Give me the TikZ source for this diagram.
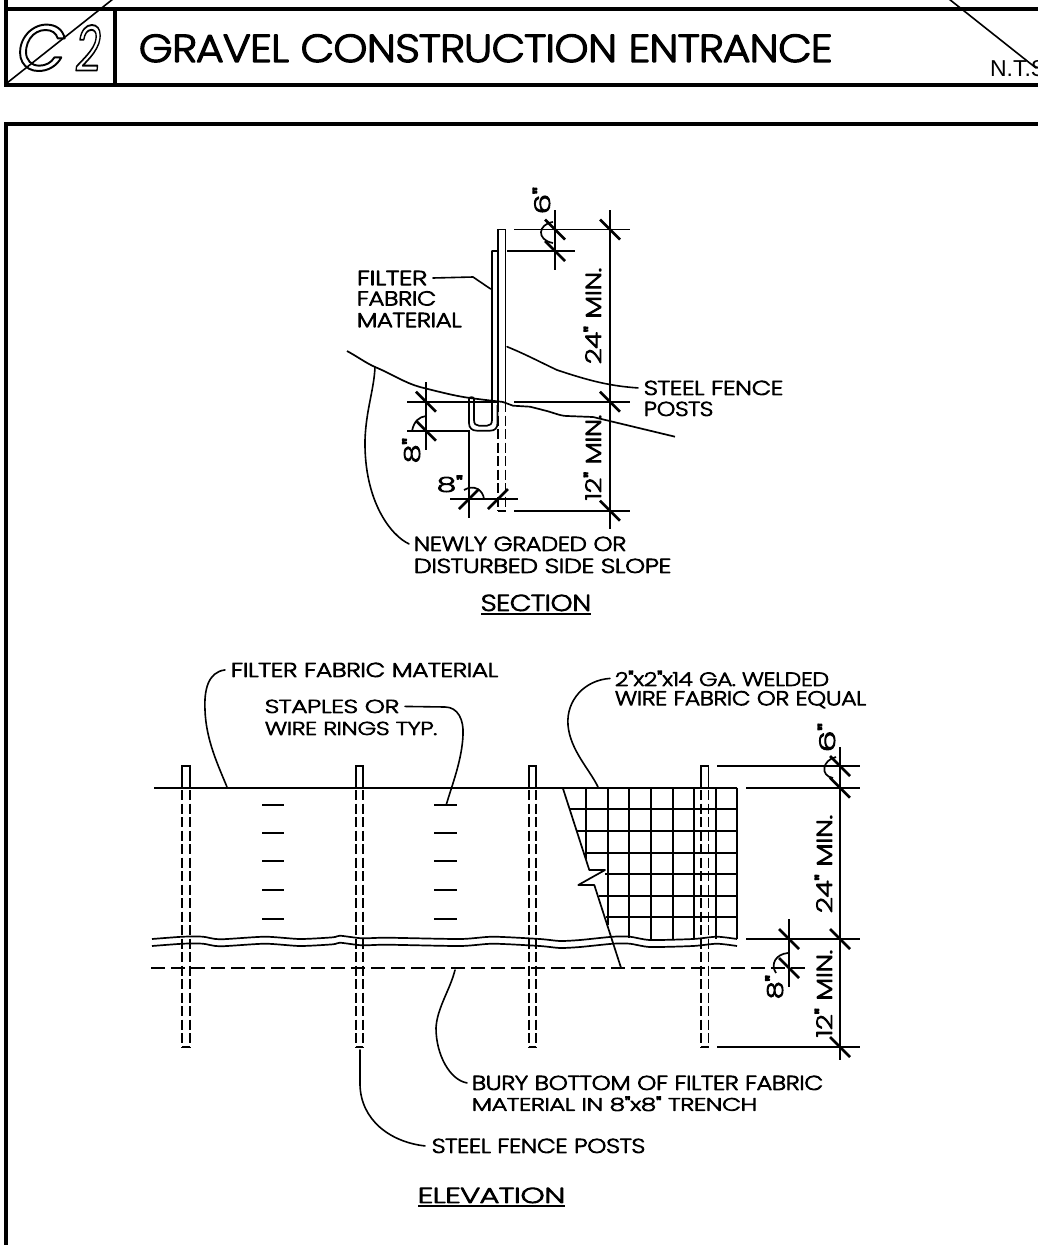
\documentclass[tikz,border=0pt]{standalone}
\usepackage{graphicx}
\usepackage{fontspec}
\newfontfamily\cad{Poppins ExtraLight}
\newfontfamily\tagfont{Poppins}
\newfontfamily\ntsfont{Liberation Sans}
\newcommand{\FT}[3]{\special{pdf:code q 2 Tr 0.5 w 1 j 1 J}\resizebox{#1pt}{#2pt}{\cad #3}\special{pdf:code Q}}
\newcommand{\OT}[3]{\special{pdf:code q 1 Tr 0.3 w 1 j 1 J}\resizebox{#1pt}{#2pt}{\tagfont\itshape #3}\special{pdf:code Q}}
\tikzset{
  lab/.style={inner sep=0pt,outer sep=0pt,anchor=south west},
  vlab/.style={lab,rotate=90},
  thin line/.style={line width=1.7pt},
  leader/.style={line width=1.6pt,line cap=round},
  frame/.style={line width=3.4pt},
  heavy/.style={line width=2.6pt},
  hidden/.style={line width=1.7pt,dash pattern=on 10pt off 3.5pt},
  trench/.style={line width=1.7pt,dash pattern=on 14pt off 6pt},
}
\begin{document}
\begin{tikzpicture}[x=1pt,y=-1pt]
\useasboundingbox (0,0) rectangle (1038,1245);
\clip (0,0) rectangle (1038,1245);
\fill[white] (0,0) rectangle (1038,1245);
% ---------- title block
\draw[frame] (1040,9) -- (6,9);
\draw[frame] (6,-2) -- (6,85) -- (1040,85);
\draw[frame] (115,9) -- (115,85);
\draw[frame] (1040,124) -- (6,124) -- (6,1247);
\draw[leader] (7,83) -- (113,-1);
\draw[leader] (949,-1) -- (1036,68);
\node[lab] (tagC) at (17,71) {\OT{49}{46}{C}};
\node[lab] (tagT) at (76,71) {\OT{25}{46}{2}};
\node[lab] (title) at (139,62) {\FT{693}{27}{GRAVEL CONSTRUCTION ENTRANCE}};
\node[lab] (nts) at (990,77) {\ntsfont\fontsize{23}{25}\selectfont N.T.S};
% ---------- SECTION
\draw[thin line] (498,402) -- (498,229.5) -- (505.5,229.5) -- (505.5,402);
\draw[hidden] (498,402) -- (498,510.7);
\draw[hidden] (505.5,402) -- (505.5,510.7);
\draw[thin line] (498,510.7) -- (505.5,510.7);
\draw[thin line,line join=round] (498,251) -- (492,251) -- (492,420) .. controls (492,424) and (490,425.7) .. (487,425.7)
  -- (479,425.7) .. controls (476,425.7) and (474,424) .. (474,420) -- (474,399)
  .. controls (474,396.5) and (469,396.5) .. (469,399) -- (469,423)
  .. controls (469,428) and (472,430.7) .. (477,430.7) -- (490,430.7)
  .. controls (495,430.7) and (497.5,428) .. (497.5,423) -- (497.5,405);
\draw[thin line] (347,351) .. controls (358,357) and (366,363) .. (375,367)
  .. controls (392,374) and (405,383) .. (420,387)
  .. controls (440,392) and (455,396) .. (470,398)
  .. controls (485,400) and (495,401) .. (503,402)
  -- (513,405.7) -- (530,406.7) -- (543,410)
  .. controls (552,412) and (560,416) .. (567,416)
  -- (593,417) -- (675,436.7);
% dimensions
\draw[thin line] (610,210) -- (610,529);
\draw[thin line] (514,229.5) -- (630,229.5);
\draw[heavy,line width=2.2pt] (514,401.7) -- (630,401.7);
\draw[thin line] (514,510.7) -- (630,510.7);
\draw[thin line] (507,251) -- (575,251);
\draw[thin line] (555,210) -- (555,270);
\draw[thin line] (426,382) -- (426,450);
\draw[thin line] (407,401.7) -- (497,401.7);
\draw[thin line] (407,430.7) -- (469,430.7) -- (469,518);
\draw[thin line] (450,499) -- (518,499);
\foreach \p in {(610,229.5),(610,401.7),(610,510.7),(555,229.5),(555,251),(426,401.7),(426,430.7)}
  \draw[heavy,shift={\p}] (-10,-10) -- (10,10);
\foreach \p in {(469,499),(498,499)}
  \draw[heavy,shift={\p}] (-10,10) -- (10,-10);
\draw[thin line] (553,222) .. controls (538,224) and (536,240) .. (553,243);
\draw[thin line] (412,431) .. controls (414,421) and (419,417) .. (426,416);
\draw[thin line] (464,490) .. controls (474,484) and (483,490) .. (484,499);
\node[vlab] (s6) at (550,214) {\FT{27}{17}{6"}};
\node[vlab] (s24) at (601,364) {\FT{96}{17}{24" MIN.}};
\node[vlab] (s12) at (601,500) {\FT{85}{17}{12" MIN.}};
\node[vlab] (s8a) at (420,463) {\FT{25}{17}{8"}};
\node[lab] (s8b) at (437,492) {\FT{26}{16}{8"}};
\node[lab] (sf1) at (357,285) {\FT{70}{14}{FILTER}};
\node[lab] (sf2) at (357,305.5) {\FT{79}{14}{FABRIC}};
\node[lab] (sf3) at (357,327) {\FT{104.5}{14}{MATERIAL}};
\node[lab] (sp1) at (644,395) {\FT{139}{14}{STEEL FENCE}};
\node[lab] (sp2) at (644,416) {\FT{69}{14}{POSTS}};
\node[lab] (sn1) at (414,551) {\FT{212}{14}{NEWLY GRADED OR}};
\node[lab] (sn2) at (414,573) {\FT{257}{14}{DISTURBED SIDE SLOPE}};
\node[lab] (sec) at (481,611) {\FT{110}{16}{SECTION}};
\draw[heavy,line width=2pt] (sec.south west)++(0,3) -- ++(110,0);
\coordinate (sFab) at (490.7,289);
\coordinate (sPost) at (507,346.7);
\coordinate (sGrade) at (375,367);
\draw[leader] ([xshift=6pt]sf1.east) -- (473,277) -- (sFab);
\draw[leader] ([xshift=-6pt]sp1.west) .. controls (610,386) and (590,381) .. (557,370) .. controls (540,362) and (525,354) .. (sPost);
\draw[leader] ([xshift=-5pt]sn1.west) .. controls (390,535) and (364,500) .. (365,440) .. controls (366,410) and (374,390) .. (sGrade);
% ---------- ELEVATION
\draw[thin line] (154,787.7) -- (737.3,787.7);
\foreach \x in {186,359.5,532.5,704.7}{
  \draw[thin line] (\x-3.8,787.7) -- (\x-3.8,766) -- (\x+3.8,766) -- (\x+3.8,787.7);
  \draw[hidden] (\x-3.8,790) -- (\x-3.8,1047);
  \draw[hidden] (\x+3.8,790) -- (\x+3.8,1047);
  \draw[thin line] (\x-3.8,1047) -- (\x+3.8,1047);
}
\foreach \y in {805,833,861,890,919}{
  \draw[thin line] (262,\y) -- (284,\y);
  \draw[thin line] (434,\y) -- (457,\y);
}
% mesh
\draw[thin line] (569.3,809.3) -- (737.3,809.3);
\draw[thin line] (576.7,830.7) -- (737.3,830.7);
\draw[thin line] (586.7,852.7) -- (737.3,852.7);
\draw[thin line] (605,874) -- (737.3,874);
\draw[thin line] (599.3,895.7) -- (737.3,895.7);
\draw[thin line] (605.7,917.3) -- (737.3,917.3);
\draw[thin line] (586,787.7) -- (586,859);
\draw[thin line] (607.7,787.7) -- (607.7,925);
\draw[thin line] (629.3,787.7) -- (629.3,938);
\foreach \x in {650.7,672.7,694,715.7,737.3}
  \draw[thin line] (\x,787.7) -- (\x,939);
\draw[thin line,line join=round] (562.7,787.7) -- (589.3,870) -- (605,870) -- (578.3,885) -- (594.3,885) -- (621,967.7);
\foreach \d in {0,7}
  \draw[thin line,yshift=\d*-1pt] plot[smooth,tension=0.4] coordinates {(152,939) (183,936.7) (203,936.7) (220,939.3) (265,936.7) (300,939) (333,937.3) (340,935.7) (362,938.3) (387,937.7) (460,939) (493,936.7) (540,939) (560,941) (580,940) (613,936.7) (630,936.7) (650,940) (693,939) (717,936.7) (737,939)};
\draw[trench] (151,968) -- (808,968);
% dimensions
\draw[thin line] (840,747) -- (840,1060);
\draw[thin line] (717,766) -- (860,766);
\draw[thin line] (746,787.7) -- (860,787.7);
\draw[thin line] (746,939) -- (860,939);
\draw[thin line] (717,1047) -- (860,1047);
\draw[thin line] (789,919) -- (789,987);
\foreach \p in {(840,766),(840,787.7),(840,939),(840,1047),(789,939),(789,968)}
  \draw[heavy,shift={\p}] (-10,-10) -- (10,10);
\draw[thin line] (836,757) .. controls (822,760) and (820,776) .. (833,778);
\draw[thin line] (788,953) .. controls (776,954) and (770,964) .. (776,973);
\node[vlab] (e6) at (835,752) {\FT{29}{17}{6"}};
\node[vlab] (e24) at (832,913) {\FT{98}{17}{24" MIN.}};
\node[vlab] (e12) at (832,1037) {\FT{87}{17}{12" MIN.}};
\node[vlab] (e8) at (783,999) {\FT{24}{17}{8"}};
\node[lab] (ef) at (231,677) {\FT{267}{14}{FILTER FABRIC MATERIAL}};
\node[lab] (es1) at (265,713) {\FT{134}{13}{STAPLES OR}};
\node[lab] (es2) at (265,735) {\FT{172}{13}{WIRE RINGS TYP.}};
\node[lab] (ew1) at (615,686) {\FT{214}{15}{2"x2"x14 GA. WELDED}};
\node[lab] (ew2) at (615,708) {\FT{251}{14}{WIRE FABRIC OR EQUAL}};
\node[lab] (eb1) at (472,1090) {\FT{351}{14}{BURY BOTTOM OF FILTER FABRIC}};
\node[lab] (eb2) at (472,1111) {\FT{285}{14}{MATERIAL IN 8"x8" TRENCH}};
\node[lab] (ep) at (432,1153) {\FT{213}{14}{STEEL FENCE POSTS}};
\node[lab] (elev) at (418,1203) {\FT{147}{15}{ELEVATION}};
\draw[heavy,line width=2pt] (elev.south west)++(0,3) -- ++(147,0);
\coordinate (eFab) at (227,787);
\coordinate (eSta) at (446.5,804);
\coordinate (eMesh) at (598,787);
\coordinate (eTr) at (455,970);
\coordinate (ePost) at (360,1050);
\draw[leader] ([xshift=-6pt]ef.west) .. controls (208,672) and (204,690) .. (205,710) .. controls (206,740) and (218,765) .. (eFab);
\draw[leader] ([xshift=6pt]es1.east) -- (445,707) .. controls (458,707) and (464,720) .. (463,735) .. controls (462,760) and (452,785) .. (eSta);
\draw[leader] ([xshift=-5pt]ew1.west) .. controls (585,680) and (566,700) .. (568,725) .. controls (570,750) and (590,770) .. (eMesh);
\draw[leader] ([xshift=-5pt]eb1.west) .. controls (450,1080) and (436,1055) .. (436,1028) .. controls (437,1008) and (450,990) .. (eTr);
\draw[leader] ([xshift=-7pt]ep.west) .. controls (390,1142) and (361,1120) .. (360,1085) -- (ePost);
\end{tikzpicture}
\end{document}
